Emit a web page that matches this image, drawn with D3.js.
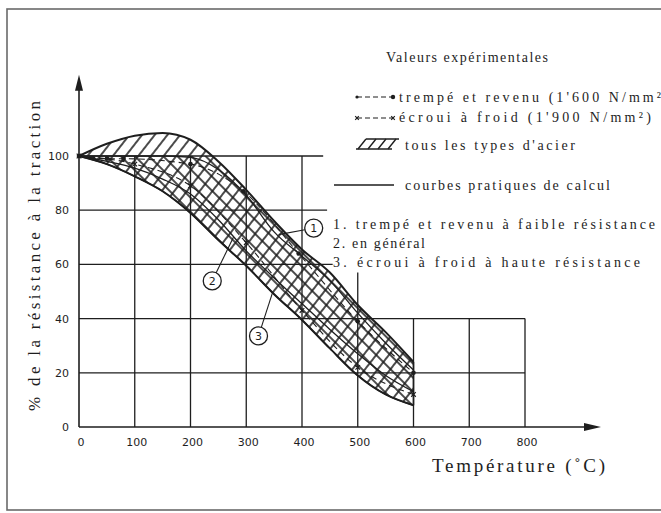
<!DOCTYPE html>
<html><head><meta charset="utf-8">
<script src="https://cdn.jsdelivr.net/npm/d3@7"></script>
<style>body{margin:0;background:#fff}svg{display:block}
.serif{font-family:"Liberation Serif","Times New Roman","DejaVu Serif",serif}
.tick{font-family:"DejaVu Sans",sans-serif}
</style>
</head><body>
<svg id="c" width="661" height="513"></svg>
<script>
// ---- data ----
const xTicks = [0,100,200,300,400,500,600,700,800];
const yTicks = [0,20,40,60,80,100];
const temps = [0,50,100,150,200,250,300,350,400,450,500,550,600];
const bandUpper = [100,104.5,107.5,108.5,106,98,87.5,76,65.5,57,45,35,24];
const bandLower = [100,97,92.5,87,79,69,59.5,49,39.5,29,19,12,8];
const curve1 = [100,100,100,100,99.5,95,85.5,72,63,54,42,31,21];
const curve2 = [100,98,95.5,91.5,86,76.5,65,55,45.5,36,27,19,13];
const curve3 = [100,97,92.5,87,79,69,59.5,49,39.5,29,19,12,8];
const trempeT = [0,50,80,200,295,394,500,600];
const trempeV = [100,99,99,97,87,64,39,20];
const ecrouiT = [0,100,200,300,400,500,600];
const ecrouiV = [100,97,89,68,43,22,12];
const hGridV = [20,40,60,80,100];
const hGridTo = [800,800,455,445,438];
const vGridV = [100,200,300,400,500,600,700,800];
const vGridTo = [100,100,100,100,57,40,40,40];
const labelIds = ["1","2","3"];
const labelAt = [[421,73.4],[239,53.9],[322,33.6]];
const labelTarget = [[358,71],[277,70],[347,49.5]];
const legendItems = ["trempé et revenu (1'600 N/mm²","écroui à froid (1'900 N/mm²)","tous les types d'acier","courbes pratiques de calcul"];
const noteItems = ["1. trempé et revenu à faible résistance","2. en général","3. écroui à froid à haute résistance"];

// ---- setup ----
const svg = d3.select("#c");
const x = d3.scaleLinear().domain([0,800]).range([79,525]);
const y = d3.scaleLinear().domain([0,100]).range([427,156]);
const ink = "#1e1e1e";

// frame
svg.append("rect").attr("x",7).attr("y",9).attr("width",700).attr("height",501)
  .attr("fill","none").attr("stroke","#6a6a6a").attr("stroke-width",1.6);

// hatch patterns
const defs = svg.append("defs");
function hatch(id, angle, sp){
  const p = defs.append("pattern").attr("id",id).attr("patternUnits","userSpaceOnUse")
    .attr("width",sp).attr("height",sp).attr("patternTransform",`rotate(${angle})`);
  p.append("line").attr("x1",sp/2).attr("y1",-1).attr("x2",sp/2).attr("y2",sp+1)
    .attr("stroke",ink).attr("stroke-width",1.6);
}
hatch("h1",38,10);
hatch("h2",-45,10);
defs.append("clipPath").attr("id","below100").append("rect")
  .attr("x",0).attr("y",y(100)).attr("width",661).attr("height",300);

// grid
const g = svg.append("g").attr("stroke",ink).attr("stroke-width",1.3);
hGridV.forEach((v,i)=>g.append("line").attr("x1",x(0)).attr("x2",x(hGridTo[i])).attr("y1",y(v)).attr("y2",y(v)));
vGridV.forEach((v,i)=>g.append("line").attr("x1",x(v)).attr("x2",x(v)).attr("y1",y(0)).attr("y2",y(vGridTo[i])));

// band
const pts = (xs,ys)=>xs.map((t,i)=>[x(t),y(ys[i])]);
const lineGen = d3.line().curve(d3.curveMonotoneX);
const up = pts(temps,bandUpper), lo = pts(temps,bandLower);
const bandPath = lineGen(up) + "L" + lineGen(lo.slice().reverse()).slice(1) + "Z";
svg.append("path").attr("d",bandPath).attr("fill","url(#h1)");
svg.append("path").attr("d",bandPath).attr("fill","url(#h2)").attr("clip-path","url(#below100)");
svg.append("path").attr("d",lineGen(up)).attr("fill","none").attr("stroke",ink).attr("stroke-width",2);
svg.append("path").attr("d",lineGen(lo)).attr("fill","none").attr("stroke",ink).attr("stroke-width",2);
svg.append("line").attr("x1",x(600)).attr("x2",x(600)).attr("y1",y(bandLower[12])).attr("y2",y(bandUpper[12]))
  .attr("stroke",ink).attr("stroke-width",1.6);

// practical curves
[curve1,curve2,curve3].forEach(c=>svg.append("path").attr("d",lineGen(pts(temps,c)))
  .attr("fill","none").attr("stroke",ink).attr("stroke-width",1.3));

// experimental dashed
const cr = d3.line().curve(d3.curveMonotoneX);
svg.append("path").attr("d",cr(pts(trempeT,trempeV))).attr("fill","none").attr("stroke",ink)
  .attr("stroke-width",1.1).attr("stroke-dasharray","6,4");
svg.append("path").attr("d",cr(pts(ecrouiT,ecrouiV))).attr("fill","none").attr("stroke",ink)
  .attr("stroke-width",1.1).attr("stroke-dasharray","6,4");
trempeT.forEach((t,i)=>svg.append("circle").attr("cx",x(t)).attr("cy",y(trempeV[i])).attr("r",2.3).attr("fill",ink));
function xmark(cx,cy,s){
  svg.append("path").attr("d",`M${cx-s},${cy-s}L${cx+s},${cy+s}M${cx-s},${cy+s}L${cx+s},${cy-s}`)
    .attr("stroke",ink).attr("stroke-width",1.2);
}
ecrouiT.forEach((t,i)=>xmark(x(t),y(ecrouiV[i]),2.3));

// axes
svg.append("line").attr("x1",x(0)).attr("x2",x(0)).attr("y1",y(0)).attr("y2",y(126)).attr("stroke",ink).attr("stroke-width",1.6);
svg.append("path").attr("d",`M${x(0)},${y(130)}L${x(0)-4},${y(130)+16}L${x(0)+4},${y(130)+16}Z`).attr("fill",ink);
svg.append("line").attr("x1",x(0)).attr("x2",597).attr("y1",y(0)).attr("y2",y(0)).attr("stroke",ink).attr("stroke-width",1.6);
svg.append("path").attr("d",`M601,${y(0)}L584,${y(0)-4}L584,${y(0)+4}Z`).attr("fill",ink);

// tick labels
yTicks.forEach(v=>svg.append("text").attr("class","tick").attr("x",69).attr("y",y(v)+4).attr("text-anchor","end")
  .attr("font-size",11).attr("fill",ink).text(v));
xTicks.forEach(v=>svg.append("text").attr("class","tick").attr("x",x(v)+2).attr("y",446).attr("text-anchor","middle")
  .attr("font-size",11).attr("fill",ink).text(v));

// axis titles
svg.append("text").attr("class","serif").attr("transform","translate(40,256) rotate(-90)").attr("text-anchor","middle")
  .attr("font-size",17).attr("fill",ink)
  .attr("textLength",310).attr("lengthAdjust","spacing").text("% de la résistance à la traction");
svg.append("text").attr("class","serif").attr("x",432).attr("y",472)
  .attr("font-size",19).attr("fill",ink)
  .attr("textLength",173).attr("lengthAdjust","spacing").text("Température (˚C)");

// circled labels
labelIds.forEach((id,i)=>{
  const cx = x(labelAt[i][0]), cy = y(labelAt[i][1]);
  const tx = x(labelTarget[i][0]), ty = y(labelTarget[i][1]);
  const a = Math.atan2(ty-cy, tx-cx);
  svg.append("line").attr("x1",cx+9*Math.cos(a)).attr("y1",cy+9*Math.sin(a)).attr("x2",tx).attr("y2",ty)
    .attr("stroke",ink).attr("stroke-width",1.1);
  svg.append("circle").attr("cx",cx).attr("cy",cy).attr("r",9).attr("fill","#fff").attr("stroke",ink).attr("stroke-width",1.3);
  svg.append("text").attr("class","tick").attr("x",cx).attr("y",cy+4).attr("text-anchor","middle")
    .attr("font-size",11).attr("fill",ink).text(id);
});

// legend
function txt(s,x0,y0,len){
  const t = svg.append("text").attr("class","serif").attr("x",x0).attr("y",y0)
    .attr("font-size",14).attr("fill",ink).text(s);
  if(len) t.attr("textLength",len).attr("lengthAdjust","spacing");
  return t;
}
txt("Valeurs expérimentales",386,62,162);
svg.append("line").attr("x1",357).attr("x2",393).attr("y1",97).attr("y2",97).attr("stroke",ink).attr("stroke-width",1.2).attr("stroke-dasharray","5,3");
svg.append("circle").attr("cx",357).attr("cy",97).attr("r",1.6).attr("fill",ink);
svg.append("circle").attr("cx",393).attr("cy",97).attr("r",2.2).attr("fill",ink);
txt(legendItems[0],399,102,262);
svg.append("line").attr("x1",357).attr("x2",393).attr("y1",118).attr("y2",118).attr("stroke",ink).attr("stroke-width",1.2).attr("stroke-dasharray","5,3");
xmark(357,118,1.8); xmark(393,118,1.8);
txt(legendItems[1],399,122,252);
svg.append("line").attr("x1",366).attr("x2",399).attr("y1",139).attr("y2",139).attr("stroke",ink).attr("stroke-width",1.4);
svg.append("line").attr("x1",356).attr("x2",392).attr("y1",149).attr("y2",149).attr("stroke",ink).attr("stroke-width",1.4);
[0,1,2,3].forEach(k=>svg.append("line").attr("x1",358+k*10).attr("y1",149).attr("x2",366+k*10).attr("y2",139)
  .attr("stroke",ink).attr("stroke-width",1.4));
txt(legendItems[2],405,150,170);
svg.append("line").attr("x1",334).attr("x2",394).attr("y1",185).attr("y2",185).attr("stroke",ink).attr("stroke-width",1.5);
txt(legendItems[3],405,190,205);
txt(noteItems[0],333,229,322);
txt(noteItems[1],333,248,92);
txt(noteItems[2],333,267,307);
</script>
</body></html>
